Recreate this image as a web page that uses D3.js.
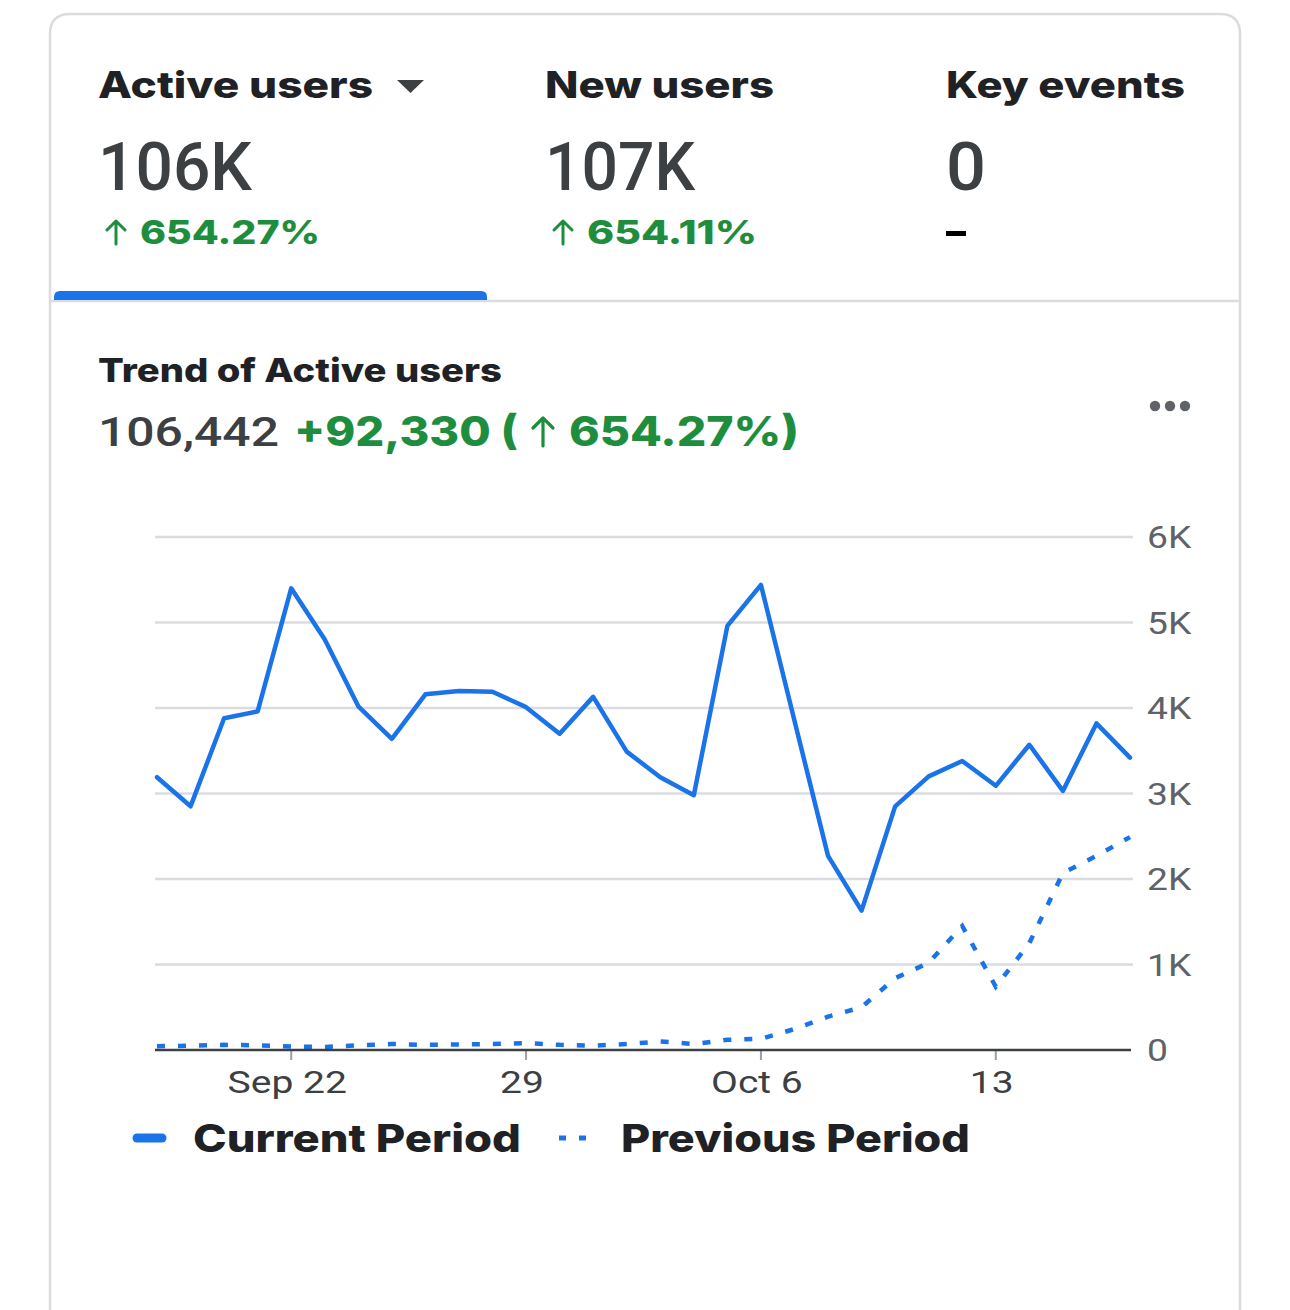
<!DOCTYPE html>
<html>
<head>
<meta charset="utf-8">
<script src="https://cdn.jsdelivr.net/npm/d3@7/dist/d3.min.js"></script>
<style>
  html, body { margin: 0; padding: 0; background: #ffffff; }
  svg { display: block; }
  .hdr { font-family: Inter, Roboto, sans-serif; font-weight: 800; fill: #202124; }
  .num { font-family: Roboto, Inter, sans-serif; font-weight: 500; fill: #3c4043; }
  .grn { font-family: Inter, Roboto, sans-serif; font-weight: 800; fill: #1e8e3e; }
  .axl { font-family: Roboto, sans-serif; fill: #5f6368; }
  .xl { font-family: Roboto, sans-serif; fill: #3c4043; }
</style>
</head>
<body>
<svg id="chart" width="1290" height="1310"></svg>
<script>
// ---------- data ----------
const startDate = "2024-09-18";
const currentValues = [3190, 2850, 3880, 3960, 5400, 4800, 4020, 3640, 4160, 4200,
                       4190, 4010, 3700, 4130, 3490, 3190, 2980, 4960, 5440, 3850,
                       2270, 1630, 2850, 3200, 3380, 3090, 3570, 3030, 3820, 3420];
const previousValues = [45, 50, 60, 55, 40, 35, 55, 70, 60, 65,
                        70, 80, 60, 50, 70, 100, 70, 120, 130, 245,
                        390, 500, 840, 1020, 1450, 740, 1250, 2070, 2270, 2490];
const yTicks = [0, 1000, 2000, 3000, 4000, 5000, 6000];
const yTickLabels = ["0", "1K", "2K", "3K", "4K", "5K", "6K"];
const xTickDates = ["2024-09-22", "2024-09-29", "2024-10-06", "2024-10-13"];
const xTickLabels = ["Sep 22", "29", "Oct 6", "13"];
const metricNames = ["Active users", "New users", "Key events"];
const metricValues = ["106K", "107K", "0"];
const metricChanges = ["654.27%", "654.11%", null];
const totalValue = "106,442";
const totalDelta = "+92,330";
const totalPct = "654.27%";
const legendLabels = ["Current Period", "Previous Period"];

// ---------- helpers ----------
const svg = d3.select("#chart");
const green = "#1e8e3e";
const blue = "#1a73e8";
function fitW(sel, w) { sel.attr("textLength", w).attr("lengthAdjust", "spacingAndGlyphs"); return sel; }
function stretch(sel, k) {
  sel.each(function () {
    const n = this.getComputedTextLength();
    d3.select(this).attr("textLength", n * k).attr("lengthAdjust", "spacingAndGlyphs");
  });
  return sel;
}
// up arrow drawn as path: cx centre, top y, bottom y, half width
function upArrow(cx, top, bottom, hw, sw) {
  const p = d3.path();
  p.moveTo(cx, bottom); p.lineTo(cx, top + 1);
  p.moveTo(cx - hw, top + hw); p.lineTo(cx, top); p.lineTo(cx + hw, top + hw);
  svg.append("path").attr("d", p.toString()).attr("fill", "none")
    .attr("stroke", green).attr("stroke-width", sw).attr("stroke-linecap", "round").attr("stroke-linejoin", "round");
}
const parse = d3.timeParse("%Y-%m-%d");
const d0 = parse(startDate);
const dates = currentValues.map((_, i) => d3.timeDay.offset(d0, i));

// card
svg.append("path")
  .attr("d", "M50,1320 L50,34 Q50,14 70,14 L1220,14 Q1240,14 1240,34 L1240,1320")
  .attr("fill", "#ffffff").attr("stroke", "#dadce0").attr("stroke-width", 2.5);

// metric headers
const metricX = [98, 545, 946];
const nameW = [275, 229, 239];
const valW = [154, 150, 40];
const chgW = [180, 170];
metricNames.forEach((n, i) => {
  fitW(svg.append("text").attr("class", "hdr").attr("x", metricX[i]).attr("y", 98)
    .attr("font-size", 37).text(n), nameW[i]);
  fitW(svg.append("text").attr("class", "num").attr("x", metricX[i]).attr("y", 190)
    .attr("font-size", 66).text(metricValues[i]), valW[i]);
  if (metricChanges[i]) {
    upArrow(metricX[i] + 18, 221, 244, 9, 3);
    fitW(svg.append("text").attr("class", "grn").attr("x", metricX[i] + 42).attr("y", 244)
      .attr("font-size", 33).text(metricChanges[i]), chgW[i]);
  } else {
    svg.append("rect").attr("x", metricX[i]).attr("y", 231).attr("width", 20).attr("height", 5).attr("fill", "#000");
  }
});
// dropdown triangle
svg.append("path").attr("d", "M397,80 L424,80 L410.5,93 Z").attr("fill", "#3c4043");

// tab indicator and separator
svg.append("line").attr("x1", 50).attr("x2", 1240).attr("y1", 301).attr("y2", 301)
  .attr("stroke", "#dadce0").attr("stroke-width", 2.5);
svg.append("path").attr("d", "M54,300 L54,297 Q54,291 60,291 L481,291 Q487,291 487,297 L487,300 Z")
  .attr("fill", blue);

// trend title
fitW(svg.append("text").attr("class", "hdr").attr("x", 98).attr("y", 382).attr("font-size", 33)
  .text("Trend of Active users"), 404);
fitW(svg.append("text").attr("class", "num").attr("x", 98).attr("y", 446).attr("font-size", 41)
  .attr("font-weight", 400).text(totalValue), 181);
fitW(svg.append("text").attr("class", "grn").attr("x", 294).attr("y", 446).attr("font-size", 41)
  .text(totalDelta + " ("), 224);
upArrow(543, 418, 446, 10, 3.2);
fitW(svg.append("text").attr("class", "grn").attr("x", 569).attr("y", 446).attr("font-size", 41)
  .text(totalPct + ")"), 230);

// more dots
[1155, 1170, 1185].forEach(cx => svg.append("circle").attr("cx", cx).attr("cy", 406).attr("r", 5.2).attr("fill", "#5f6368"));

// ---------- chart ----------
const x = d3.scaleTime().domain([dates[0], dates[dates.length - 1]]).range([157, 1130]);
const y = d3.scaleLinear().domain([0, 6000]).range([1050, 537]);

// gridlines
svg.append("g").selectAll("line").data(yTicks.filter(v => v > 0)).join("line")
  .attr("x1", 155).attr("x2", 1133).attr("y1", d => y(d)).attr("y2", d => y(d))
  .attr("stroke", "#dadce0").attr("stroke-width", 2.5);

// y labels
stretch(svg.append("g").selectAll("text").data(yTicks).join("text")
  .attr("class", "axl").attr("x", 1147).attr("y", d => y(d) + 11)
  .attr("font-size", 31).text((d, i) => yTickLabels[i]), 1.2);

// x ticks and labels
const xt = xTickDates.map(parse);
svg.append("g").selectAll("line").data(xt).join("line")
  .attr("x1", d => x(d)).attr("x2", d => x(d)).attr("y1", 1050).attr("y2", 1060)
  .attr("stroke", "#9aa0a6").attr("stroke-width", 2);
stretch(svg.append("g").selectAll("text").data(xt).join("text")
  .attr("class", "xl").attr("x", d => x(d) - 4).attr("y", 1093).attr("text-anchor", "middle")
  .attr("font-size", 32).text((d, i) => xTickLabels[i]), 1.22);

// lines
const line = d3.line().x((d, i) => x(dates[i])).y(d => y(d));
svg.append("path").datum(previousValues).attr("d", line)
  .attr("fill", "none").attr("stroke", blue).attr("stroke-width", 4.5)
  .attr("stroke-dasharray", "8,13");
// baseline
svg.append("line").attr("x1", 155).attr("x2", 1131).attr("y1", 1050).attr("y2", 1050)
  .attr("stroke", "#3c4043").attr("stroke-width", 2.5);
svg.append("path").datum(currentValues).attr("d", line)
  .attr("fill", "none").attr("stroke", blue).attr("stroke-width", 4.5)
  .attr("stroke-linejoin", "round").attr("stroke-linecap", "round");

// legend
svg.append("line").attr("x1", 137).attr("x2", 162).attr("y1", 1138).attr("y2", 1138)
  .attr("stroke", blue).attr("stroke-width", 9).attr("stroke-linecap", "round");
fitW(svg.append("text").attr("class", "hdr").attr("x", 193).attr("y", 1152).attr("font-size", 38)
  .text(legendLabels[0]), 328);
svg.append("line").attr("x1", 559).attr("x2", 591).attr("y1", 1138).attr("y2", 1138)
  .attr("stroke", blue).attr("stroke-width", 5).attr("stroke-dasharray", "7,13");
fitW(svg.append("text").attr("class", "hdr").attr("x", 621).attr("y", 1152).attr("font-size", 38)
  .text(legendLabels[1]), 349);
</script>
</body>
</html>
